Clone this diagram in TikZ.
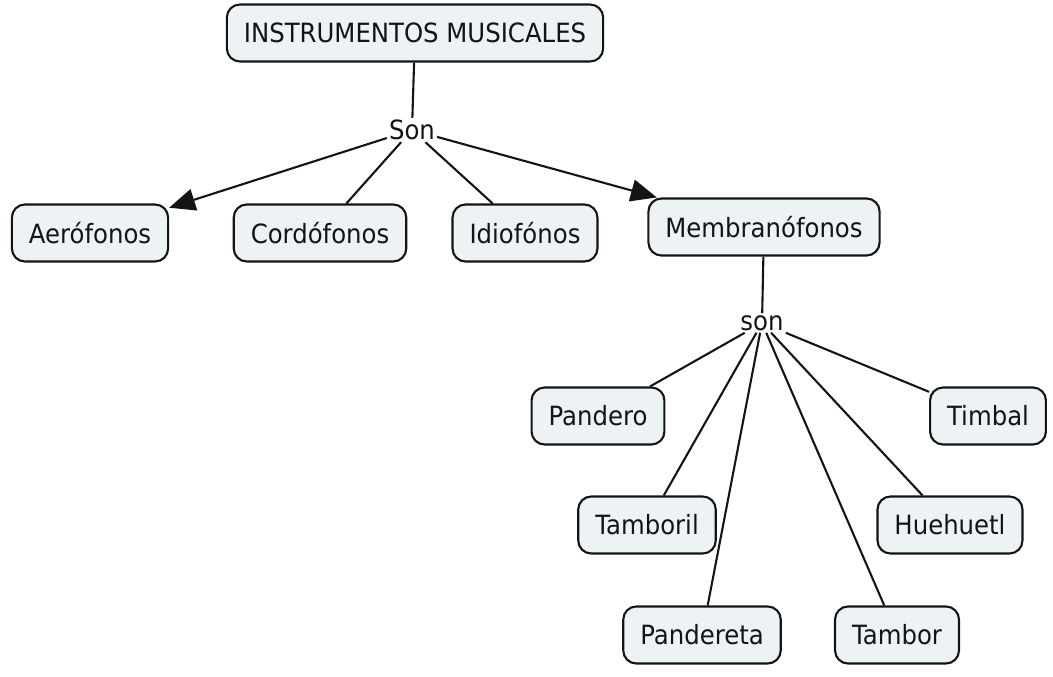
\documentclass[tikz,border=0pt]{standalone}
\usepackage{fontspec}
\setmainfont{DejaVu Sans}[FakeStretch=0.92]
\usetikzlibrary{arrows.meta}
\definecolor{boxfill}{HTML}{EDF2F5}
\definecolor{ink}{HTML}{141414}
\begin{document}
\begin{tikzpicture}[x=1pt,y=-1pt,
  concept/.style={draw=ink,fill=boxfill,line width=2.1pt,rounded corners=13pt,
    inner xsep=17pt,minimum height=57pt,text=ink,
    font=\fontsize{26.5}{31}\selectfont},
  linkword/.style={inner sep=2pt,text=ink,font=\fontsize{26.5}{31}\selectfont},
  conn/.style={draw=ink,line width=2.1pt},
  arr/.style={conn,-{Triangle[length=26pt,width=22pt]}}]
\useasboundingbox (0,0) rectangle (1053,677);
\node[concept] (top) at (415,33) {INSTRUMENTOS MUSICALES};
\node[linkword] (son1) at (412,130) {Son};
\node[concept] (aero) at (90,233) {Aerófonos};
\node[concept] (cord) at (320,233) {Cordófonos};
\node[concept] (idio) at (525,233) {Idiofónos};
\node[concept] (memb) at (764,227) {Membranófonos};
\node[linkword] (son2) at (762,323) {son};
\node[concept] (pandero) at (598,416) {Pandero};
\node[concept] (timbal) at (988,416) {Timbal};
\node[concept] (tamboril) at (647,525) {Tamboril};
\node[concept] (huehuetl) at (950,525) {Huehuetl};
\node[concept] (pandereta) at (702,635) {Pandereta};
\node[concept] (tambor) at (897,635) {Tambor};
\draw[conn] (top) -- (son1);
\draw[arr] (son1) -- (aero);
\draw[conn] (son1) -- (cord);
\draw[conn] (son1) -- (idio);
\draw[arr] (son1) -- (memb);
\draw[conn] (memb) -- (son2);
\draw[conn] (son2) -- (pandero);
\draw[conn] (son2) -- (timbal);
\draw[conn] (son2) -- (tamboril);
\draw[conn] (son2) -- (huehuetl);
\draw[conn] (son2) -- (pandereta);
\draw[conn] (son2) -- (tambor);
\end{tikzpicture}
\end{document}
